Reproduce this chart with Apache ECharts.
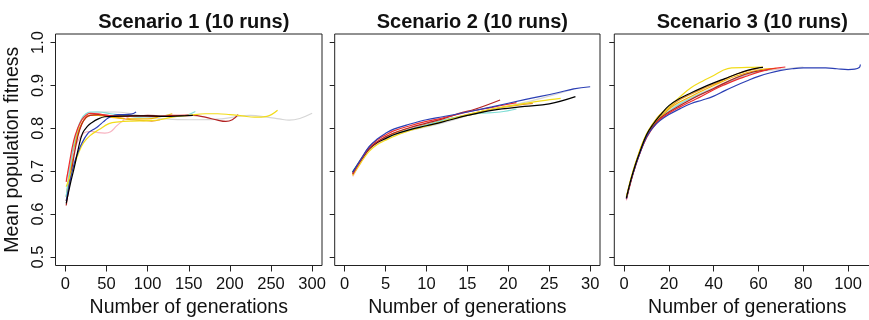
<!DOCTYPE html>
<html><head><meta charset="utf-8">
<script src="https://cdn.jsdelivr.net/npm/echarts@6/dist/echarts.min.js"></script>
<style>html,body{margin:0;padding:0;background:#fff}#c{width:869px;height:320px}</style>
</head><body><div id="c"></div>
<script>
// ---- Tick labels ----
const Y_TICKS = [0.5, 0.6, 0.7, 0.8, 0.9, 1.0];
const X1_TICKS = [0, 50, 100, 150, 200, 250, 300];
const X2_TICKS = [0, 5, 10, 15, 20, 25, 30];
const X3_TICKS = [0, 20, 40, 60, 80, 100];
const TITLES = ["Scenario 1 (10 runs)", "Scenario 2 (10 runs)", "Scenario 3 (10 runs)"];

// ---- Scenario 1 runs: [generation, mean fitness] ----
const S1_BLACK = [[1,0.625],[6,0.67],[11,0.71],[16,0.755],[21,0.789],[27,0.805],[32,0.813],[40,0.822],[48,0.827],[60,0.828],[80,0.829],[100,0.829],[120,0.828],[140,0.829],[155,0.83]];
const S1_RED = [[1,0.675],[5,0.72],[10,0.77],[15,0.80],[20,0.82],[25,0.83],[30,0.835],[40,0.834],[50,0.83],[70,0.828],[90,0.829],[110,0.828],[130,0.83],[150,0.831]];
const S1_BLUE = [[1,0.63],[6,0.68],[11,0.72],[15,0.742],[20,0.765],[27.6,0.789],[34,0.797],[40,0.805],[46,0.815],[52,0.824],[58,0.829],[64,0.832],[72,0.832],[80,0.833],[86,0.838]];
const S1_YELLOW = [[1,0.664],[6,0.69],[11,0.715],[16,0.742],[22,0.766],[30,0.783],[41,0.797],[53,0.811],[65,0.815],[81,0.817],[100,0.818],[115,0.82],[130,0.826],[150,0.83],[170,0.834],[185,0.834],[200,0.832],[215,0.829],[230,0.826],[245,0.828],[258,0.842]];
const S1_GOLD = [[1,0.64],[5,0.69],[10,0.75],[15,0.79],[20,0.812],[25,0.825],[30,0.83],[40,0.83],[60,0.825],[80,0.822],[100,0.822],[115,0.827],[130,0.834]];
const S1_TURQ = [[1,0.64],[5,0.70],[10,0.76],[15,0.80],[20,0.823],[25,0.834],[30,0.838],[40,0.838],[55,0.834],[70,0.83],[90,0.826],[110,0.828],[125,0.83],[140,0.828],[150,0.832],[158,0.839]];
const S1_PINK = [[1,0.68],[5,0.71],[10,0.745],[15,0.77],[20,0.785],[26,0.792],[32,0.793],[40,0.79],[48,0.789],[55,0.792],[62,0.805],[70,0.818],[76,0.826],[82,0.83]];
const S1_ORANGE = [[1,0.63],[5,0.68],[10,0.74],[15,0.785],[20,0.81],[25,0.825],[30,0.83],[40,0.83],[60,0.826],[80,0.82],[95,0.818],[105,0.817],[115,0.82]];
const S1_BRICK = [[1,0.62],[5,0.67],[10,0.73],[15,0.78],[20,0.81],[25,0.825],[30,0.83],[40,0.832],[60,0.829],[80,0.828],[100,0.83],[120,0.829],[140,0.829],[155,0.83],[170,0.826],[185,0.819],[195,0.816],[203,0.82],[210,0.832]];
const S1_LGREY = [[1,0.64],[5,0.70],[10,0.755],[15,0.795],[20,0.82],[25,0.832],[30,0.836],[40,0.838],[60,0.838],[80,0.834],[100,0.826],[130,0.821],[160,0.82],[190,0.822],[210,0.828],[225,0.83],[245,0.826],[260,0.822],[272,0.819],[285,0.823],[300,0.835]];

// ---- Scenario 2 runs ----
const S2_BLUE = [[1,0.697],[2,0.728],[3,0.757],[4,0.775],[5,0.788],[6,0.798],[8,0.81],[10,0.82],[12,0.827],[15,0.838],[18,0.85],[22,0.867],[26,0.883],[28,0.892],[30,0.897]];
const S2_BLACK = [[1,0.698],[2,0.726],[3,0.752],[4,0.767],[5,0.776],[6,0.785],[8,0.797],[10,0.806],[12,0.815],[15,0.83],[18,0.842],[22,0.851],[25,0.857],[28.2,0.874]];
const S2_YELLOW = [[1,0.69],[2,0.72],[3,0.746],[4,0.762],[5,0.772],[6,0.781],[8,0.795],[10,0.805],[12,0.816],[15,0.832],[18,0.845],[22,0.858],[24,0.864],[26.4,0.87]];
const S2_RED = [[1,0.694],[2,0.726],[3,0.756],[4,0.773],[5,0.784],[6,0.794],[8,0.806],[10,0.816],[12,0.824],[15,0.838],[18,0.849],[21,0.86]];
const S2_BRICK = [[1,0.693],[3,0.752],[5,0.78],[8,0.802],[10,0.812],[12,0.822],[14,0.835],[16,0.845],[19,0.866]];
const S2_TURQ = [[1,0.7],[2,0.727],[3,0.752],[4,0.768],[5,0.777],[7,0.792],[10,0.808],[13,0.823],[16,0.834],[19,0.838],[21,0.845]];
const S2_PINK = [[1,0.688],[2,0.72],[3,0.748],[4,0.765],[5,0.776],[7,0.792],[9,0.806],[11,0.818],[13,0.83]];
const S2_LGREY = [[1,0.695],[2,0.724],[3,0.75],[5,0.775],[7,0.79],[10,0.803],[13,0.818],[16,0.835],[20,0.852],[24,0.87],[28,0.892]];
const S2_ORANGE = [[1,0.692],[3,0.75],[5,0.779],[7,0.795],[10,0.81],[13,0.823],[16,0.836],[19,0.848],[23,0.858]];
const S2_GOLD = [[1,0.696],[3,0.753],[5,0.778],[8,0.798],[11,0.812],[14,0.826],[17,0.837]];

// ---- Scenario 3 runs ----
const S3_BLACK = [[1,0.638],[3,0.68],[5,0.715],[7,0.745],[10,0.785],[13,0.81],[16,0.83],[20,0.853],[25,0.87],[30,0.883],[35,0.895],[40,0.906],[45,0.916],[50,0.926],[55,0.935],[60,0.941],[62,0.942]];
const S3_YELLOW = [[1,0.64],[3,0.683],[5,0.718],[7,0.748],[10,0.787],[13,0.812],[16,0.832],[20,0.85],[25,0.874],[30,0.895],[35,0.91],[40,0.923],[44,0.935],[48,0.941],[55,0.942],[62,0.943]];
const S3_BLUE = [[1,0.636],[3,0.678],[5,0.712],[7,0.742],[10,0.78],[13,0.803],[16,0.818],[20,0.832],[25,0.846],[30,0.858],[35,0.866],[40,0.875],[45,0.888],[50,0.9],[55,0.911],[60,0.921],[65,0.929],[70,0.935],[75,0.939],[80,0.941],[85,0.941],[90,0.941],[95,0.939],[100,0.937],[103,0.938],[105,0.942],[105.5,0.949]];
const S3_RED = [[1,0.636],[5,0.712],[10,0.778],[15,0.815],[20,0.835],[25,0.85],[30,0.863],[35,0.876],[40,0.89],[45,0.902],[50,0.913],[55,0.922],[60,0.931],[65,0.938],[72,0.943]];
const S3_ORANGE = [[1,0.64],[5,0.716],[10,0.785],[15,0.826],[20,0.848],[25,0.867],[30,0.88],[35,0.892],[40,0.903],[45,0.915],[50,0.926],[55,0.934],[60,0.94]];
const S3_TURQ = [[1,0.637],[5,0.713],[10,0.782],[15,0.82],[20,0.84],[25,0.857],[30,0.87],[35,0.882],[40,0.893],[45,0.905],[50,0.917],[55,0.927],[60,0.933],[66,0.938]];
const S3_PINK = [[1,0.632],[5,0.71],[10,0.78],[15,0.818],[20,0.84],[30,0.868],[40,0.892],[50,0.915],[60,0.933],[70,0.94]];
const S3_LGREY = [[1,0.637],[5,0.713],[10,0.783],[15,0.822],[20,0.844],[30,0.872],[40,0.895],[50,0.918],[60,0.932],[70,0.938],[80,0.943]];
const S3_BRICK = [[1,0.635],[5,0.712],[10,0.78],[15,0.818],[20,0.838],[30,0.868],[40,0.893],[50,0.918],[58,0.932],[64,0.936]];
const S3_GOLD = [[1,0.637],[5,0.714],[10,0.784],[20,0.845],[30,0.875],[40,0.9],[50,0.922],[60,0.936],[68,0.94]];

const COL = {black:'#000000', red:'#ee2c2c', blue:'#2b3fb5', yellow:'#f2dc1a', gold:'#f0b400', turq:'#7fded6', pink:'#f7b3c0', orange:'#e8962a', brick:'#b22222', lgrey:'#d6d6d6'};

const RUNS = [
  [0, [[S1_LGREY,'lgrey'],[S1_ORANGE,'orange'],[S1_GOLD,'gold'],[S1_PINK,'pink'],[S1_BRICK,'brick'],[S1_TURQ,'turq'],[S1_YELLOW,'yellow'],[S1_BLUE,'blue'],[S1_RED,'red'],[S1_BLACK,'black']]],
  [1, [[S2_LGREY,'lgrey'],[S2_ORANGE,'orange'],[S2_GOLD,'gold'],[S2_PINK,'pink'],[S2_TURQ,'turq'],[S2_YELLOW,'yellow'],[S2_BLACK,'black'],[S2_BRICK,'brick'],[S2_RED,'red'],[S2_BLUE,'blue']]],
  [2, [[S3_LGREY,'lgrey'],[S3_PINK,'pink'],[S3_TURQ,'turq'],[S3_GOLD,'gold'],[S3_BRICK,'brick'],[S3_ORANGE,'orange'],[S3_RED,'red'],[S3_BLUE,'blue'],[S3_YELLOW,'yellow'],[S3_BLACK,'black']]]
];

const FONT = '"Liberation Sans", Arial, sans-serif';
const AX = '#222';
const GRIDS = [{left:55.5, top:34, width:266.5, height:231.5},{left:334.7, top:34, width:265.3, height:231.5},{left:614.3, top:34, width:266, height:231.5}];
const XR = [[-12,312,X1_TICKS],[-1.2,31.2,X2_TICKS],[-4.4,114.4,X3_TICKS]];

const series = [];
RUNS.forEach(([gi, list]) => {
  list.forEach(([d, c]) => {
    series.push({type:'line', xAxisIndex:gi, yAxisIndex:gi, data:d, smooth:0.4, showSymbol:false, symbol:'none',
      lineStyle:{color:COL[c], width:1.2}, silent:true, animation:false, clip:true});
  });
});

const option = {
  animation:false,
  title: TITLES.map((t,i)=>({text:t, left:GRIDS[i].left+GRIDS[i].width/2, textAlign:'center', top:7,
    textStyle:{fontFamily:FONT, fontWeight:'bold', fontSize:20, color:'#111'}})),
  grid: GRIDS.map(g=>Object.assign({show:true, borderColor:AX, borderWidth:1, backgroundColor:'transparent',
    containLabel:false, outerBoundsMode:'none'}, g)),
  xAxis: XR.map((r,i)=>({type:'value', gridIndex:i, min:r[0], max:r[1],
    axisLine:{show:false, onZero:false}, splitLine:{show:false},
    axisTick:{show:true, inside:false, customValues:r[2], length:6, lineStyle:{color:AX}},
    axisLabel:{customValues:r[2], margin:10, fontFamily:FONT, fontSize:16.5, color:'#111'},
    name:'Number of generations', nameLocation:'middle', nameGap:32, nameMoveOverlap:false,
    nameTextStyle:{fontFamily:FONT, fontSize:19.5, color:'#111'}})),
  yAxis: [0,1,2].map(i=>({type:'value', gridIndex:i, min:0.48, max:1.02,
    axisLine:{show:false, onZero:false}, splitLine:{show:false},
    axisTick:{show:true, inside:false, customValues:Y_TICKS, length:5, lineStyle:{color:AX}},
    axisLabel:{show:i===0, customValues:Y_TICKS, rotate:90, margin:9, fontFamily:FONT, fontSize:16.5, color:'#111',
      formatter:v=>v.toFixed(1)},
    name: i===0 ? 'Mean population fitness' : '', nameLocation:'middle', nameGap:33, nameRotate:90, nameMoveOverlap:false,
    nameTextStyle:{fontFamily:FONT, fontSize:19.5, color:'#111'}})),
  series
};
const chart = echarts.init(document.getElementById('c'), null, {renderer:'canvas'});
chart.setOption(option);
</script></body></html>
